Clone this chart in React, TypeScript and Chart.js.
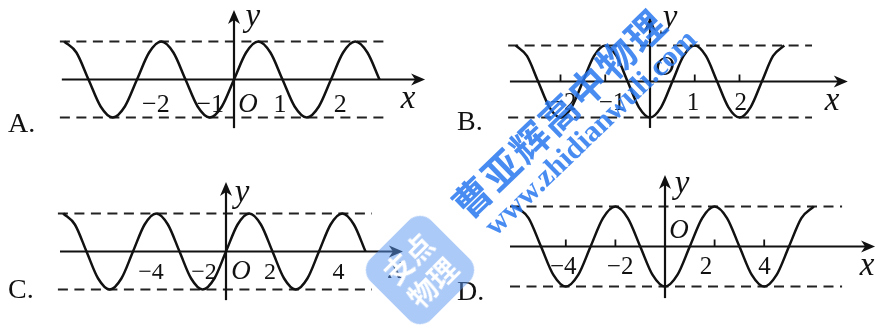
import React, { useEffect, useRef } from "react";
import { Chart, registerables } from "chart.js";
Chart.register(...registerables);

// ---------- data ----------
// A: y = sin(pi x) read at quarter-period points
const aX = [-3.5,-3.25,-3,-2.75,-2.5,-2.25,-2,-1.75,-1.5,-1.25,-1,-0.75,-0.5,-0.25,0,0.25,0.5,0.75,1,1.25,1.5,1.75,2,2.25,2.5,2.75,3];
const aY = [1,0.71,0,-0.71,-1,-0.71,0,0.71,1,0.71,0,-0.71,-1,-0.71,0,0.71,1,0.71,0,-0.71,-1,-0.71,0,0.71,1,0.71,0];
// B
const bX = [-3,-2.75,-2.5,-2.25,-2,-1.75,-1.5,-1.25,-1,-0.75,-0.5,-0.25,0,0.25,0.5,0.75,1,1.25,1.5,1.75,2,2.25,2.5,2.75,3];
const bY = [1,0.71,0,-0.71,-1,-0.71,0,0.71,1,0.71,0,-0.71,-1,-0.71,0,0.71,1,0.71,0,-0.71,-1,-0.71,0,0.71,1];
// C
const cX = [-7,-6.5,-6,-5.5,-5,-4.5,-4,-3.5,-3,-2.5,-2,-1.5,-1,-0.5,0,0.5,1,1.5,2,2.5,3,3.5,4,4.5,5,5.5,6];
const cY = [1,0.71,0,-0.71,-1,-0.71,0,0.71,1,0.71,0,-0.71,-1,-0.71,0,0.71,1,0.71,0,-0.71,-1,-0.71,0,0.71,1,0.71,0];
// D
const dX = [-6,-5.5,-5,-4.5,-4,-3.5,-3,-2.5,-2,-1.5,-1,-0.5,0,0.5,1,1.5,2,2.5,3,3.5,4,4.5,5,5.5,6];
const dY = [1,0.71,0,-0.71,-1,-0.71,0,0.71,1,0.71,0,-0.71,-1,-0.71,0,0.71,1,0.71,0,-0.71,-1,-0.71,0,0.71,1];

const aTickText = ["−2", "−1", "1", "2"];
const bTickText = ["−2", "−1", "1", "2"];
const cTickText = ["−4", "−2", "2", "4"];
const dTickText = ["−4", "−2", "2", "4"];
const bTickMarks = [-2, -1, 1, 2];
const dTickMarks = [-4, -2, 2, 4];
const optionLetters = ["A.", "B.", "C.", "D."];

// ---------- layout ----------
type Panel = {
  left: number; top: number; width: number; height: number;
  ox: number; oy: number; unitX: number; ampY: number;
  xs: number[]; ys: number[];
  tickText: string[]; tickLabelX: number[]; tickMarks: number[];
  numDy: number; oX: number; oDy: number; xX: number; xDy: number; yX: number; yDy: number;
  axisX: [number, number]; axisY: [number, number]; dash: [number, number];
  letter: string; letterX: number; letterY: number; numSize: number;
};

const PANELS: Panel[] = [
  {
    left: 0, top: 0, width: 438, height: 163, ox: 234, oy: 79.5, unitX: 48.5, ampY: 38,
    xs: aX, ys: aY, tickText: aTickText, tickLabelX: [-1.61, -0.49, 0.95, 2.19], tickMarks: [],
    numDy: 32, oX: 0.29, oDy: 32, xX: 3.59, xDy: 28, yX: 0.39, yDy: -54,
    axisX: [-3.55, 3.94], axisY: [-1.28, 1.83], dash: [-3.59, 3.11],
    letter: optionLetters[0], letterX: 8, letterY: 132, numSize: 26,
  },
  {
    left: 438, top: 0, width: 439, height: 163, ox: 650, oy: 81.5, unitX: 44.75, ampY: 36,
    xs: bX, ys: bY, tickText: bTickText, tickLabelX: [-1.94, -0.85, 0.96, 2.03], tickMarks: bTickMarks,
    numDy: 28.5, oX: 0.33, oDy: -6.5, xX: 4.07, xDy: 28.5, yX: 0.45, yDy: -54.5,
    axisX: [-3.13, 4.42], axisY: [-1.29, 1.79], dash: [-3.17, 3.62],
    letter: optionLetters[1], letterX: 457, letterY: 130, numSize: 25,
  },
  {
    left: 0, top: 163, width: 438, height: 164, ox: 226, oy: 251.5, unitX: 23.25, ampY: 38,
    xs: cX, ys: cY, tickText: cTickText, tickLabelX: [-3.23, -0.95, 1.89, 4.84], tickMarks: [],
    numDy: 27, oX: 0.65, oDy: 27, xX: 7.3, xDy: 26, yX: 0.69, yDy: -50,
    axisX: [-7.14, 7.61], axisY: [-1.28, 1.83], dash: [-7.23, 6.28],
    letter: optionLetters[2], letterX: 8, letterY: 298, numSize: 24,
  },
  {
    left: 438, top: 163, width: 439, height: 164, ox: 665, oy: 246.5, unitX: 24.8, ampY: 40,
    xs: dX, ys: dY, tickText: dTickText, tickLabelX: [-4.1, -1.81, 1.65, 4.01], tickMarks: dTickMarks,
    numDy: 27, oX: 0.56, oDy: -8.5, xX: 8.15, xDy: 28.5, yX: 0.69, yDy: -53.5,
    axisX: [-6.25, 8.47], axisY: [-1.29, 1.79], dash: [-6.25, 7.14],
    letter: optionLetters[3], letterX: 457, letterY: 300, numSize: 25,
  },
];

const INK = "#111";
const SERIF = '"Liberation Serif", "Times New Roman", serif';

function arrowHead(ctx: CanvasRenderingContext2D, tx: number, ty: number, dirX: number, dirY: number) {
  const L = 14, W = 6, N = 10;
  const px = -dirY, py = dirX;
  ctx.beginPath();
  ctx.moveTo(tx, ty);
  ctx.lineTo(tx - dirX * L + px * W, ty - dirY * L + py * W);
  ctx.lineTo(tx - dirX * N, ty - dirY * N);
  ctx.lineTo(tx - dirX * L - px * W, ty - dirY * L - py * W);
  ctx.closePath();
  ctx.fill();
}

function PanelChart({ p }: { p: Panel }) {
  const ref = useRef<HTMLCanvasElement>(null);
  useEffect(() => {
    const canvas = ref.current!;
    const xmin = (p.left - p.ox) / p.unitX;
    const xmax = (p.left + p.width - p.ox) / p.unitX;
    const ymax = (p.oy - p.top) / p.ampY;
    const ymin = (p.oy - p.top - p.height) / p.ampY;

    const decor = {
      id: "decor",
      beforeDatasetsDraw(chart: any) {
        const ctx: CanvasRenderingContext2D = chart.ctx;
        const sx = chart.scales.x, sy = chart.scales.y;
        const X = (v: number) => sx.getPixelForValue(v);
        const Y = (v: number) => sy.getPixelForValue(v);
        ctx.save();
        // dashed bounds
        ctx.strokeStyle = "#222";
        ctx.lineWidth = 2.2;
        ctx.setLineDash([10, 6.5]);
        for (const lv of [1, -1]) {
          ctx.beginPath();
          ctx.moveTo(X(p.dash[0]), Y(lv));
          ctx.lineTo(X(p.dash[1]), Y(lv));
          ctx.stroke();
        }
        ctx.setLineDash([]);
        // axes
        ctx.strokeStyle = INK;
        ctx.fillStyle = INK;
        ctx.lineWidth = 2.2;
        const y0 = Y(0), x0 = X(0);
        ctx.beginPath();
        ctx.moveTo(X(p.axisX[0]), y0);
        ctx.lineTo(X(p.axisX[1]) - 8, y0);
        ctx.stroke();
        arrowHead(ctx, X(p.axisX[1]), y0, 1, 0);
        ctx.beginPath();
        ctx.moveTo(x0, Y(p.axisY[0]));
        ctx.lineTo(x0, Y(p.axisY[1]) + 8);
        ctx.stroke();
        arrowHead(ctx, x0, Y(p.axisY[1]), 0, -1);
        // tick marks
        ctx.lineWidth = 1.8;
        for (const t of p.tickMarks) {
          ctx.beginPath();
          ctx.moveTo(X(t), y0);
          ctx.lineTo(X(t), y0 - 7);
          ctx.stroke();
        }
        ctx.restore();
      },
      afterDatasetsDraw(chart: any) {
        const ctx: CanvasRenderingContext2D = chart.ctx;
        const sx = chart.scales.x, sy = chart.scales.y;
        const X = (v: number) => sx.getPixelForValue(v);
        const y0 = sy.getPixelForValue(0);
        ctx.save();
        ctx.fillStyle = INK;
        ctx.textAlign = "center";
        ctx.textBaseline = "alphabetic";
        ctx.font = `${p.numSize}px ${SERIF}`;
        p.tickText.forEach((t, i) => ctx.fillText(t, X(p.tickLabelX[i]), y0 + p.numDy));
        ctx.font = `italic 27px ${SERIF}`;
        ctx.fillText("O", X(p.oX), y0 + p.oDy);
        ctx.font = `italic 33px ${SERIF}`;
        ctx.fillText("x", X(p.xX), y0 + p.xDy);
        ctx.fillText("y", X(p.yX), y0 + p.yDy);
        ctx.textAlign = "left";
        ctx.font = `28px ${SERIF}`;
        ctx.fillText(p.letter, p.letterX - p.left, p.letterY - p.top);
        ctx.restore();
      },
    };

    const chart = new Chart(canvas, {
      type: "scatter",
      data: {
        datasets: [
          {
            data: p.xs.map((x, i) => ({ x, y: p.ys[i] })),
            showLine: true,
            borderColor: INK,
            borderWidth: 2.5,
            pointRadius: 0,
            cubicInterpolationMode: "monotone",
            fill: false,
          } as any,
        ],
      },
      options: {
        animation: false,
        responsive: false,
        maintainAspectRatio: false,
        events: [],
        layout: { padding: 0 },
        plugins: { legend: { display: false }, tooltip: { enabled: false } },
        scales: {
          x: { type: "linear", display: false, min: xmin, max: xmax },
          y: { type: "linear", display: false, min: ymin, max: ymax },
        },
      },
      plugins: [decor],
    });
    return () => chart.destroy();
  }, [p]);
  return (
    <canvas
      ref={ref}
      width={p.width}
      height={p.height}
      style={{ position: "absolute", left: p.left, top: p.top, width: p.width, height: p.height }}
    />
  );
}

export default function App() {
  const blue = "rgba(40, 120, 240, 0.85)";
  return (
    <div style={{ position: "fixed", left: 0, top: 0, width: 877, height: 327, overflow: "hidden", background: "#fff" }}>
      {PANELS.map((p, i) => (
        <PanelChart key={i} p={p} />
      ))}
      {/* watermark */}
      <div
        style={{
          position: "absolute", left: 558, top: 112, transform: "translate(-50%, -50%) rotate(-44deg)",
          font: 'bold 38px "Noto Sans CJK SC", sans-serif', color: blue, whiteSpace: "nowrap", letterSpacing: 2,
        }}
      >
        曹亚辉高中物理
      </div>
      <div
        style={{
          position: "absolute", left: 590, top: 132, transform: "translate(-50%, -50%) rotate(-44deg)",
          font: `bold 30px ${SERIF}`, color: blue, whiteSpace: "nowrap",
        }}
      >
        www.zhidianwuli.com
      </div>
      <div
        style={{
          position: "absolute", left: 420, top: 270, width: 86, height: 86,
          transform: "translate(-50%, -50%) rotate(-45deg)", borderRadius: 16,
          background: "rgba(90, 150, 240, 0.5)", color: "#fff",
          font: 'bold 28px "Noto Sans CJK SC", sans-serif', lineHeight: "34px",
          display: "flex", flexDirection: "column", alignItems: "center", justifyContent: "center",
        }}
      >
        <div>支点</div>
        <div>物理</div>
      </div>
    </div>
  );
}
